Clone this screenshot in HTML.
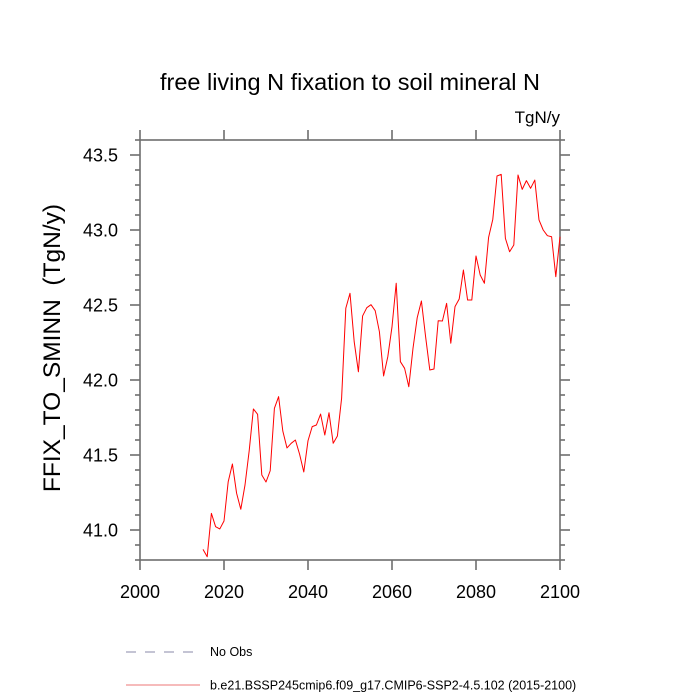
<!DOCTYPE html>
<html><head><meta charset="utf-8"><style>
html,body{margin:0;padding:0;background:#fff;}
svg{display:block;font-family:"Liberation Sans",sans-serif;}
</style></head><body>
<svg id="chart" width="700" height="700" viewBox="0 0 700 700" xmlns="http://www.w3.org/2000/svg">
<rect width="700" height="700" fill="#fff"/>
<text x="350" y="90" text-anchor="middle" font-size="23.5" fill="#000">free living N fixation to soil mineral N</text>
<text x="560" y="123" text-anchor="end" font-size="17" fill="#000">TgN/y</text>
<text transform="translate(60,348) rotate(-90)" text-anchor="middle" font-size="24.5" fill="#000" style="white-space:pre" xml:space="preserve">FFIX_TO_SMINN  (TgN/y)</text>
<g id="axes"></g>
<g id="series"></g>
<g>
<line x1="126" y1="652" x2="200" y2="652" stroke="#8888aa" stroke-width="1" stroke-dasharray="10,9"/>
<text x="210" y="656" font-size="12.5" fill="#000">No Obs</text>
<line x1="126" y1="685" x2="200" y2="685" stroke="#ee7777" stroke-width="1"/>
<text x="210" y="689.5" font-size="12.5" fill="#000">b.e21.BSSP245cmip6.f09_g17.CMIP6-SSP2-4.5.102 (2015-2100)</text>
</g>
</svg>
<script>
const startYear = 2015;
const values = [40.871,40.822,41.111,41.022,41.007,41.06,41.322,41.44,41.245,41.138,41.3,41.529,41.807,41.771,41.367,41.32,41.395,41.811,41.889,41.66,41.547,41.578,41.6,41.505,41.387,41.595,41.689,41.7,41.773,41.633,41.782,41.578,41.627,41.878,42.478,42.578,42.255,42.055,42.427,42.482,42.502,42.462,42.322,42.027,42.155,42.355,42.645,42.122,42.078,41.955,42.211,42.415,42.527,42.289,42.067,42.073,42.395,42.393,42.511,42.245,42.489,42.54,42.733,42.533,42.533,42.827,42.7,42.645,42.951,43.071,43.36,43.371,42.944,42.855,42.9,43.367,43.271,43.329,43.278,43.333,43.067,43.0,42.962,42.955,42.689,42.955];
const xTicks = [2000,2020,2040,2060,2080,2100];
const yTicks = [41.0,41.5,42.0,42.5,43.0,43.5];
const yTickLabels = ["41.0","41.5","42.0","42.5","43.0","43.5"];

const L=140,R=560,T=140,B=560;
const xMin=2000,xMax=2100;
const X=v=>L+(v-xMin)/(xMax-xMin)*(R-L);
const Y=v=>155+(43.5-v)*150;
const NS="http://www.w3.org/2000/svg";
function mk(tag,attrs,parent){const e=document.createElementNS(NS,tag);for(const k in attrs)e.setAttribute(k,attrs[k]);parent.appendChild(e);return e;}
const ax=document.getElementById('axes');
const col="#6e6e6e";
const frame=mk('rect',{x:L,y:T,width:R-L,height:B-T,fill:'none',stroke:col,'stroke-width':1.6},ax);


xTicks.forEach((t,i)=>{
  const x=X(t);
  const a=mk('line',{x1:x,y1:B,x2:x,y2:B+10,stroke:col,'stroke-width':1.6},ax);
  
  
  const b=mk('line',{x1:x,y1:T,x2:x,y2:T-10,stroke:col,'stroke-width':1.6},ax);
  
  
  const tx=mk('text',{x:x,y:B+38,'text-anchor':'middle','font-size':18,fill:'#000'},ax);
  tx.textContent=String(t);
  
  
});
for(let v=40.8;v<=43.61;v+=0.1){
  const y=Y(v);
  if(y<T-0.5||y>B+0.5)continue;
  const major=yTicks.some(t=>Math.abs(t-v)<1e-6);
  const len=major?10:5;
  const a=mk('line',{x1:L,y1:y,x2:L-len,y2:y,stroke:col,'stroke-width':1.6},ax);
  
  
  const b=mk('line',{x1:R,y1:y,x2:R+len,y2:y,stroke:col,'stroke-width':1.6},ax);
  
  
}
yTicks.forEach((t,i)=>{
  const tx=mk('text',{x:118,y:Y(t)+6.5,'text-anchor':'end','font-size':18,fill:'#000'},ax);
  tx.textContent=yTickLabels[i];
  
  
});
const pts=values.map((v,i)=>X(startYear+i).toFixed(2)+','+Y(v).toFixed(2)).join(' ');
const line=mk('polyline',{points:pts,fill:'none',stroke:'#ff0000','stroke-width':1,'stroke-linejoin':'round'},document.getElementById('series'));


</script>
</body></html>
